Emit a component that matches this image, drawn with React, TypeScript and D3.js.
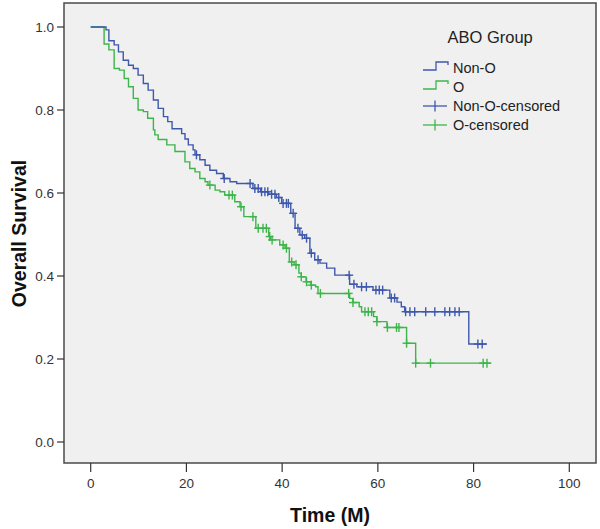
import React from "react";
import * as d3 from "d3";

// Kaplan-Meier steps: [time (months), survival after event]
const nonOSteps: [number, number][] = [
  [3.2, 0.993], [3.8, 0.967], [4.9, 0.957], [5.8, 0.94], [6.8, 0.92], [7.9, 0.908],
  [8.9, 0.9], [9.9, 0.884], [11.0, 0.864], [12.0, 0.848], [13.1, 0.824], [14.1, 0.804],
  [15.2, 0.784], [16.1, 0.772], [17.0, 0.755], [19.0, 0.743], [19.7, 0.73], [20.4, 0.716],
  [21.4, 0.704], [21.8, 0.692], [22.8, 0.68], [23.9, 0.667], [24.9, 0.655], [26.3, 0.647],
  [27.7, 0.635], [29.1, 0.627], [30.5, 0.623], [33.9, 0.611], [35.5, 0.603], [37.2, 0.597],
  [38.8, 0.589], [39.9, 0.575], [41.8, 0.551], [42.7, 0.515], [43.7, 0.499], [44.7, 0.491],
  [45.8, 0.455], [46.8, 0.439], [47.9, 0.431], [49.3, 0.419], [51.0, 0.402], [54.1, 0.38],
  [55.6, 0.374], [59.0, 0.366], [62.5, 0.347], [64.0, 0.337], [64.9, 0.326], [65.6, 0.314],
  [79.0, 0.236],
];
const nonOEnd = 82.8;
const nonOCensored: number[] = [
  22.1, 27.9, 33.3, 34.3, 35.0, 35.7, 36.4, 37.0, 37.8, 38.5, 39.3, 40.2, 40.9, 41.3,
  42.3, 43.3, 44.2, 45.1, 46.1, 47.5, 54.0, 55.0, 56.6, 57.6, 59.6, 60.3, 61.0, 62.8,
  63.5, 65.8, 66.7, 67.7, 70.0, 71.9, 74.0, 75.0, 76.1, 77.0, 80.9, 81.8,
];

const oSteps: [number, number][] = [
  [2.8, 0.959], [3.8, 0.945], [4.9, 0.9], [6.0, 0.896], [7.0, 0.876], [7.9, 0.856],
  [8.9, 0.828], [9.9, 0.8], [11.0, 0.796], [11.9, 0.78], [13.1, 0.752], [13.4, 0.74],
  [14.1, 0.729], [15.9, 0.716], [17.6, 0.7], [19.7, 0.675], [20.7, 0.659], [21.8, 0.651],
  [22.8, 0.635], [23.9, 0.627], [24.5, 0.619], [26.0, 0.607], [27.0, 0.603], [28.0, 0.595],
  [30.1, 0.579], [31.2, 0.567], [32.0, 0.543], [34.5, 0.515], [37.2, 0.495], [37.6, 0.487],
  [39.5, 0.475], [40.6, 0.467], [41.5, 0.434], [42.5, 0.427], [43.5, 0.407], [44.0, 0.398],
  [45.0, 0.386], [46.0, 0.378], [47.0, 0.374], [47.5, 0.358], [54.1, 0.346], [54.8, 0.336],
  [56.1, 0.326], [56.6, 0.314], [59.1, 0.302], [59.8, 0.29], [61.9, 0.276], [66.0, 0.238],
  [67.9, 0.19],
];
const oEnd = 83.7;
const oCensored: number[] = [
  24.9, 28.9, 29.6, 31.4, 33.9, 35.0, 36.0, 36.7, 37.4, 37.9, 40.2, 40.9, 42.0, 42.9,
  44.0, 45.1, 46.1, 48.0, 53.9, 54.8, 57.3, 58.0, 58.7, 59.8, 62.0, 63.9, 64.4, 66.0,
  67.9, 71.0, 82.0, 82.8,
];

const xTicks = [0, 20, 40, 60, 80, 100];
const yTicks = [0.0, 0.2, 0.4, 0.6, 0.8, 1.0];
const legendTitle = "ABO Group";
const legendLabels = ["Non-O", "O", "Non-O-censored", "O-censored"];

const BLUE = "#3e58ac";
const GREEN = "#3db54a";
const FONT = "'Liberation Sans', Arial, sans-serif";

const W = 600;
const H = 529;
const frame = { left: 64, top: 3, right: 596, bottom: 463 };

const x = d3.scaleLinear().domain([0, 100]).range([90.7, 569.3]);
const y = d3.scaleLinear().domain([0, 1]).range([442, 27]);

function survAt(steps: [number, number][], t: number): number {
  let s = 1;
  for (const [st, v] of steps) {
    if (st <= t) s = v;
  }
  return s;
}

function stepPath(steps: [number, number][], end: number): string {
  const pts: [number, number][] = [[0, 1], ...steps, [end, steps[steps.length - 1][1]]];
  const line = d3
    .line<[number, number]>()
    .x((d) => x(d[0]))
    .y((d) => y(d[1]))
    .curve(d3.curveStepAfter);
  return line(pts) || "";
}

function Censors({ steps, times, color }: { steps: [number, number][]; times: number[]; color: string }) {
  return (
    <g stroke={color} strokeWidth={1.4}>
      {times.map((t, i) => {
        const cx = x(t);
        const cy = y(survAt(steps, t));
        return (
          <g key={i}>
            <line x1={cx} x2={cx} y1={cy - 4.5} y2={cy + 4.5} />
            <line x1={cx - 4} x2={cx + 4} y1={cy} y2={cy} />
          </g>
        );
      })}
    </g>
  );
}

export default function App() {
  const legendX = 423;
  const legendRows = [72.5, 91.5, 110.5, 129.5];
  return (
    <svg
      width={W}
      height={H}
      style={{ position: "absolute", left: 0, top: 0, background: "#fff" }}
      fontFamily={FONT}
    >
      <rect x={0} y={0} width={W} height={H} fill="#fff" />
      <rect
        x={frame.left}
        y={frame.top}
        width={frame.right - frame.left}
        height={frame.bottom - frame.top}
        fill="#f0f0f0"
        stroke="#4a4a4a"
        strokeWidth={1.5}
      />
      {/* Y axis ticks */}
      {yTicks.map((v) => (
        <g key={v}>
          <line x1={57} x2={frame.left} y1={y(v)} y2={y(v)} stroke="#333" strokeWidth={1.2} />
          <text x={54} y={y(v) + 5} textAnchor="end" fontSize={13.5} fill="#333">
            {v.toFixed(1)}
          </text>
        </g>
      ))}
      {/* X axis ticks */}
      {xTicks.map((t) => (
        <g key={t}>
          <line x1={x(t)} x2={x(t)} y1={frame.bottom} y2={frame.bottom + 9} stroke="#333" strokeWidth={1.2} />
          <text x={x(t)} y={488} textAnchor="middle" fontSize={13.5} fill="#333">
            {t}
          </text>
        </g>
      ))}
      <text x={(frame.left + frame.right) / 2} y={522} textAnchor="middle" fontSize={19.5} fontWeight="bold" fill="#111">
        Time (M)
      </text>
      <text
        transform={`translate(25.5, ${(y(0) + y(1)) / 2 - 1}) rotate(-90)`}
        textAnchor="middle"
        fontSize={19.5}
        fontWeight="bold"
        fill="#111"
      >
        Overall Survival
      </text>

      {/* Curves */}
      <path d={stepPath(oSteps, oEnd)} fill="none" stroke={GREEN} strokeWidth={1.4} />
      <path d={stepPath(nonOSteps, nonOEnd)} fill="none" stroke={BLUE} strokeWidth={1.4} />
      <Censors steps={oSteps} times={oCensored} color={GREEN} />
      <Censors steps={nonOSteps} times={nonOCensored} color={BLUE} />

      {/* Legend */}
      <text x={447.5} y={43} fontSize={16.5} fill="#222">
        {legendTitle}
      </text>
      {legendLabels.map((lab, i) => {
        const color = i % 2 === 0 ? BLUE : GREEN;
        const by = legendRows[i];
        const cy = by - 4.5;
        return (
          <g key={lab}>
            {i < 2 ? (
              <path
                d={`M${legendX},${cy + 2} H${legendX + 13} V${cy - 6} H${legendX + 25} V${cy - 3}`}
                fill="none"
                stroke={color}
                strokeWidth={1.3}
              />
            ) : (
              <g stroke={color} strokeWidth={1.3}>
                <line x1={legendX} x2={legendX + 24} y1={cy} y2={cy} />
                <line x1={legendX + 12} x2={legendX + 12} y1={cy - 5.5} y2={cy + 5.5} />
              </g>
            )}
            <text x={453} y={by} fontSize={14.5} fill="#222">
              {lab}
            </text>
          </g>
        );
      })}
    </svg>
  );
}
